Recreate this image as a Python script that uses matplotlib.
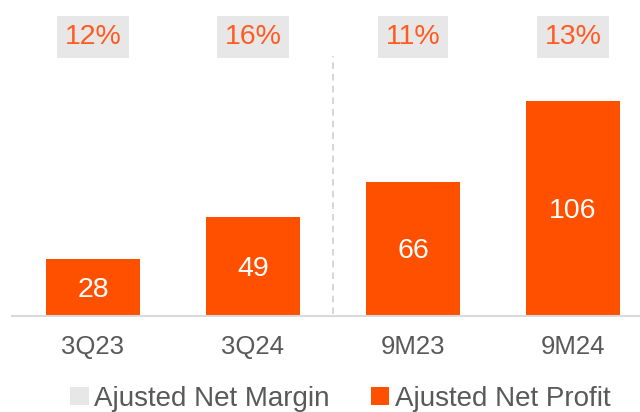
import matplotlib
matplotlib.use("Agg")
import matplotlib.pyplot as plt
from matplotlib.patches import Patch

plt.rcParams['font.family'] = ['Liberation Sans', 'DejaVu Sans']

periods = ['3Q23', '3Q24', '9M23', '9M24']
net_profit = [28, 49, 66, 106]
net_margin = ['12%', '16%', '11%', '13%']

ORANGE = '#FF5000'
GREY_BOX = '#E7E7E7'
TEXT = '#595959'

fig = plt.figure(figsize=(6.4, 4.12), dpi=100)
ax = fig.add_axes([12 / 640, 96 / 412, 628 / 640, 316 / 412])

x = list(range(len(periods)))
ax.bar(x, net_profit, width=0.59, color=ORANGE, zorder=2)
for xi, v in zip(x, net_profit):
    ax.text(xi, v / 2 - 1.2, str(v), ha='center', va='center', color='white', fontsize=20.5)

for xi, m in zip(x, net_margin):
    ax.text(xi, 137.5, m, ha='center', va='center', color='#FF5A1F', fontsize=20.5,
            bbox=dict(boxstyle='square,pad=0.27', facecolor=GREY_BOX, edgecolor='none'))

# separator between quarter and nine-month figures
ax.plot([1.5, 1.5], [1, 128], color='#D0D0D0', linestyle=(0, (4, 3)), linewidth=1.2)

ax.set_xlim(-0.506, 3.419)
ax.set_ylim(0, 155.7)
ax.set_xticks(x)
ax.set_xticklabels(periods, fontsize=18.5, color=TEXT)
ax.tick_params(axis='x', length=0, pad=14)
ax.set_yticks([])
for s in ['top', 'right', 'left']:
    ax.spines[s].set_visible(False)
ax.spines['bottom'].set_color('#D9D9D9')
ax.spines['bottom'].set_linewidth(1.5)

handles = [Patch(facecolor=GREY_BOX, edgecolor='none', label='Ajusted Net Margin'),
           Patch(facecolor=ORANGE, edgecolor='none', label='Ajusted Net Profit')]
fig.legend(handles=handles, loc='center', bbox_to_anchor=(0.532, 0.032), ncol=2,
           frameon=False, fontsize=20, handlelength=0.65, handleheight=0.65,
           handletextpad=0.2, columnspacing=1.5, labelcolor=TEXT)

fig.savefig('out.png', dpi=100)
